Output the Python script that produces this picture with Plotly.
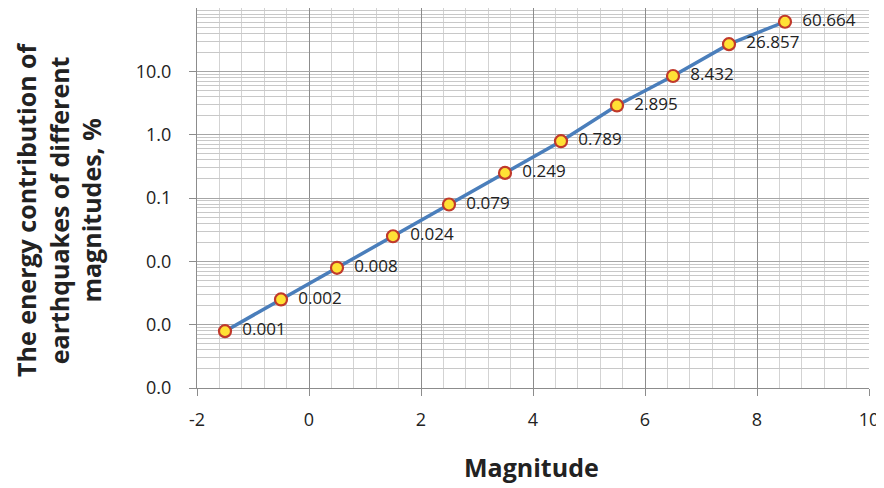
import plotly.graph_objects as go

magnitude = [-1.5, -0.5, 0.5, 1.5, 2.5, 3.5, 4.5, 5.5, 6.5, 7.5, 8.5]
energy_pct = [0.00079, 0.0025, 0.0079, 0.0249, 0.0789, 0.249, 0.789, 2.895, 8.432, 26.857, 60.664]
point_labels = ["0.001", "0.002", "0.008", "0.024", "0.079", "0.249", "0.789", "2.895", "8.432", "26.857", "60.664"]
y_tickvals = [0.0001, 0.001, 0.01, 0.1, 1, 10]
y_ticktext = ["0.0", "0.0", "0.0", "0.1", "1.0", "10.0"]
x_tickvals = [-2, 0, 2, 4, 6, 8, 10]
x_ticktext = ["-2", "0", "2", "4", "6", "8", "10"]

font_family = "Open Sans, Noto Sans, sans-serif"
# page body has an 8px margin, so the figure is drawn 8px smaller and offset
OFF = 8
W, H = 884 - OFF, 488 - OFF
L, R, T = 197 - OFF, 15, 0
ph = 380
B = H - T - ph
pw = W - L - R

fig = go.Figure()
fig.add_trace(go.Scatter(
    x=magnitude, y=energy_pct,
    mode="lines+markers+text",
    text=["  " + t for t in point_labels],
    textposition="middle right",
    textfont=dict(size=17, color="#222222", family=font_family),
    line=dict(color="#4A7EBB", width=3.5),
    marker=dict(size=12, color="#FFE135", line=dict(color="#C0392B", width=2.2)),
    cliponaxis=False,
    showlegend=False,
))

fig.update_layout(
    width=W, height=H,
    margin=dict(l=L, r=R, t=T, b=B, autoexpand=False),
    paper_bgcolor="white", plot_bgcolor="white",
    font=dict(family=font_family, color="#222222"),
    xaxis=dict(
        range=[-2, 10], tickvals=x_tickvals, ticktext=x_ticktext,
        showgrid=True, gridcolor="#8C8C8C", gridwidth=1.3,
        minor=dict(dtick=0.4, tick0=-2, showgrid=True, gridcolor="#D3D3D3", gridwidth=1.3),
        showline=True, linecolor="#8C8C8C", linewidth=1.3,
        ticks="outside", ticklen=7, tickcolor="#8C8C8C",
        tickfont=dict(size=18, color="#222222"),
        ticklabelstandoff=8,
        zeroline=False, automargin=False,
    ),
    yaxis=dict(
        type="log", range=[-4, 2],
        tickvals=y_tickvals, ticktext=y_ticktext,
        showgrid=True, gridcolor="#A6A6A6", gridwidth=1.3,
        minor=dict(dtick="D1", showgrid=True, gridcolor="#C8C8C8", gridwidth=1.3),
        showline=True, linecolor="#8C8C8C", linewidth=1.3,
        ticks="outside", ticklen=7, tickcolor="#8C8C8C",
        tickfont=dict(size=18, color="#222222"),
        ticklabelstandoff=14,
        zeroline=False, automargin=False,
    ),
    annotations=[
        dict(
            text="<b>The energy contribution of<br>earthquakes of different<br>magnitudes, %</b>",
            textangle=-90, xref="paper", yref="paper",
            x=(58 - OFF - L) / pw, y=1 - (210 - OFF - T) / ph,
            xanchor="center", yanchor="middle", showarrow=False,
            font=dict(size=25, color="#222222", family=font_family),
        ),
        dict(
            text="<b>Magnitude</b>",
            xref="paper", yref="paper",
            x=(531 - OFF - L) / pw, y=-(467 - OFF - T - ph) / ph,
            xanchor="center", yanchor="middle", showarrow=False,
            font=dict(size=25, color="#222222", family=font_family),
        ),
    ],
)

fig.write_html("out.html")
